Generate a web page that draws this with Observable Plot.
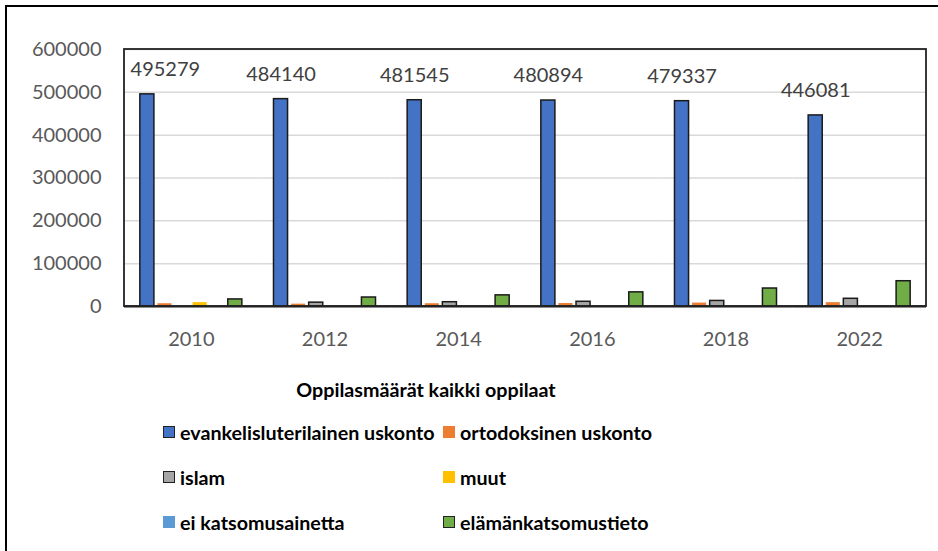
<!DOCTYPE html>
<html><head><meta charset="utf-8">
<script src="https://cdn.jsdelivr.net/npm/d3@7"></script>
<script src="https://cdn.jsdelivr.net/npm/@observablehq/plot@0.6"></script>
<style>
body{margin:0;background:#fff;font-family:Lato,"Liberation Sans",sans-serif;}
#wrap{position:relative;width:938px;height:551px;overflow:hidden;background:#fff;}
#outer{position:absolute;left:5px;top:5px;width:1000px;height:1000px;border-left:2px solid #000;border-top:2px solid #000;pointer-events:none;}
#chart{position:absolute;left:0;top:0;}
#title{position:absolute;left:426px;top:379px;transform:translateX(-50%);font-weight:bold;font-size:19.7px;line-height:22px;color:#000;white-space:nowrap;}
.item{position:absolute;display:flex;align-items:center;height:22px;font-weight:bold;font-size:19.7px;color:#000;white-space:nowrap;}
.sw{display:inline-block;width:12px;height:12px;margin-right:5px;box-sizing:border-box;}
</style>
</head><body>
<div id="wrap">
  <div id="chart"></div>
  <div id="outer"></div>
  <div id="title">Oppilasmäärät kaikki oppilaat</div>
  <div id="legend"></div>
</div>
<script>
const years = ["2010","2012","2014","2016","2018","2022"];
const seriesNames = ["evankelisluterilainen uskonto","ortodoksinen uskonto","islam","muut","ei katsomusainetta","elämänkatsomustieto"];
const seriesColors = ["#4472C4","#ED7D31","#A5A5A5","#FFC000","#5B9BD5","#70AD47"];
const outlinedSeries = ["evankelisluterilainen uskonto","islam","elämänkatsomustieto"];
const evankelisluterilainen = [495279,484140,481545,480894,479337,446081];
const ortodoksinen = [6500,5500,6500,7000,8000,9000];
const islam = [0,9000,10000,11000,13000,18000];
const muut = [9000,800,800,800,800,800];
const eiKatsomusainetta = [700,500,500,500,500,500];
const elamankatsomustieto = [16500,21000,26000,33000,42000,59000];
const yTicks = [0,100000,200000,300000,400000,500000,600000];

const seriesValues = [evankelisluterilainen, ortodoksinen, islam, muut, eiKatsomusainetta, elamankatsomustieto];
const rows = [];
years.forEach((yr,i)=>seriesNames.forEach((s,j)=>rows.push({year:yr, series:s, value:seriesValues[j][i]})));
const labelRows = rows.filter(d=>d.series===seriesNames[0]);

const W=938,H=360,mL=124,mR=12,mT=49,mB=54;
const plot = Plot.plot({
  width:W, height:H, marginLeft:mL, marginRight:mR, marginTop:mT, marginBottom:mB,
  style:{fontFamily:"Lato, 'Liberation Sans', sans-serif", fontSize:"20px", color:"#595959", background:"transparent", overflow:"visible"},
  fx:{domain:years, padding:0, round:false, label:null},
  x:{domain:seriesNames, paddingInner:0.2, paddingOuter:0.9, round:false, axis:null},
  y:{domain:[0,600000], axis:null},
  color:{domain:seriesNames, range:seriesColors},
  marks:[
    Plot.gridY(yTicks, {stroke:"#d9d9d9", strokeOpacity:1, strokeWidth:1.5}),
    Plot.axisY(yTicks, {anchor:"left", tickSize:0, tickPadding:23, tickFormat:d=>String(d), fontSize:20, fill:"#595959", label:null}),
    Plot.axisFx({anchor:"bottom", tickSize:0, tickPadding:25, fontSize:20, fill:"#595959", label:null}),
    Plot.barY(rows.filter(d=>!outlinedSeries.includes(d.series)), {fx:"year", x:"series", y:"value", fill:"series"}),
    Plot.barY(rows.filter(d=>outlinedSeries.includes(d.series) && d.value>0), {fx:"year", x:"series", y:"value", fill:"series", stroke:"#1a1a1a", strokeWidth:1.5}),
    Plot.ruleY([0], {stroke:"#222", strokeWidth:2}),
    Plot.text(labelRows.filter(d=>d.year!==years[0]), {fx:"year", x:"series", y:"value", text:d=>String(d.value), dy:-25, fontSize:20, fill:"#404040"}),
    Plot.text(labelRows.filter(d=>d.year===years[0]), {fx:"year", x:"series", y:"value", text:d=>String(d.value), dy:-25, dx:18, fontSize:20, fill:"#404040"})
  ]
});
document.getElementById("chart").appendChild(plot);
// plot-area frame
d3.select(plot).append("rect")
  .attr("x", mL).attr("y", mT).attr("width", W-mL-mR).attr("height", H-mT-mB)
  .attr("fill","none").attr("stroke","#222").attr("stroke-width",1.8);

// legend
const legendPos = [[163,432],[443,432],[163,477],[443,477],[163,522],[443,522]];
const leg = document.getElementById("legend");
seriesNames.forEach((s,i)=>{
  const it = document.createElement("div");
  it.className="item";
  it.style.left = legendPos[i][0]+"px";
  it.style.top = (legendPos[i][1]-11)+"px";
  const sw = document.createElement("span");
  sw.className="sw";
  sw.style.background = seriesColors[i];
  if (outlinedSeries.includes(s)) sw.style.border = "1.5px solid #222";
  it.appendChild(sw);
  it.appendChild(document.createTextNode(s));
  leg.appendChild(it);
});
</script>
</body></html>
